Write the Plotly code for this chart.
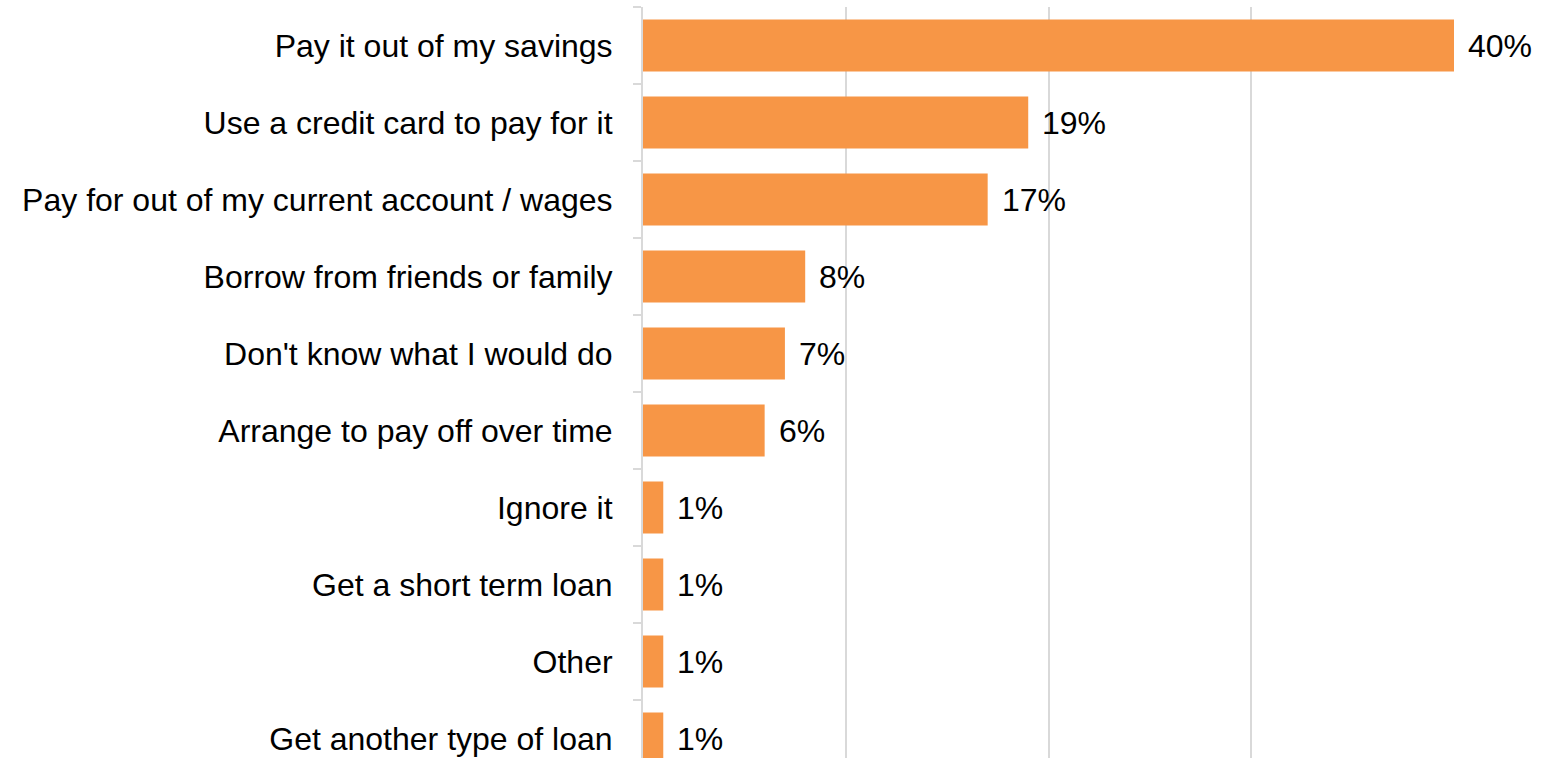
import plotly.graph_objects as go

categories = [
    "Pay it out of my savings",
    "Use a credit card to pay for it",
    "Pay for out of my current account / wages",
    "Borrow from friends or family",
    "Don't know what I would do",
    "Arrange to pay off over time",
    "Ignore it",
    "Get a short term loan",
    "Other",
    "Get another type of loan",
]
values = [40, 19, 17, 8, 7, 6, 1, 1, 1, 1]

FONT = "Liberation Sans, Arial, sans-serif"
BAR_COLOR = "#F79646"
GRID_COLOR = "#D9D9D9"
FONT_SIZE = 32

fig = go.Figure()
fig.add_trace(go.Bar(
    x=values,
    y=categories,
    orientation="h",
    marker=dict(color=BAR_COLOR, line=dict(width=0)),
    width=0.675,
    hoverinfo="x+y",
))

# value labels just to the right of each bar end
for cat, val in zip(categories, values):
    fig.add_annotation(
        x=val, y=cat, text=f"{val}%",
        xref="x", yref="y",
        xanchor="left", yanchor="middle",
        xshift=12, showarrow=False,
        font=dict(family=FONT, size=FONT_SIZE, color="#000000"),
    )

fig.update_layout(
    width=1560, height=758,
    margin=dict(l=643, r=106, t=7, b=0, pad=0),
    paper_bgcolor="white",
    plot_bgcolor="white",
    showlegend=False,
    font=dict(family=FONT, size=FONT_SIZE, color="#000000"),
    xaxis=dict(
        range=[0, 40],
        tickvals=[0, 10, 20, 30, 40],
        showticklabels=False,
        showgrid=True,
        gridcolor=GRID_COLOR,
        gridwidth=1.5,
        zeroline=False,
        showline=False,
        ticks="",
    ),
    yaxis=dict(
        type="category",
        categoryorder="array",
        categoryarray=categories,
        range=[9.253, -0.5],
        showline=True,
        linecolor=GRID_COLOR,
        linewidth=2,
        ticks="outside",
        tickson="boundaries",
        ticklen=8,
        tickcolor=GRID_COLOR,
        tickwidth=1.5,
        showgrid=False,
        ticklabelstandoff=22,
        tickfont=dict(family=FONT, size=FONT_SIZE, color="#000000"),
    ),
)

fig.write_html("out.html")
